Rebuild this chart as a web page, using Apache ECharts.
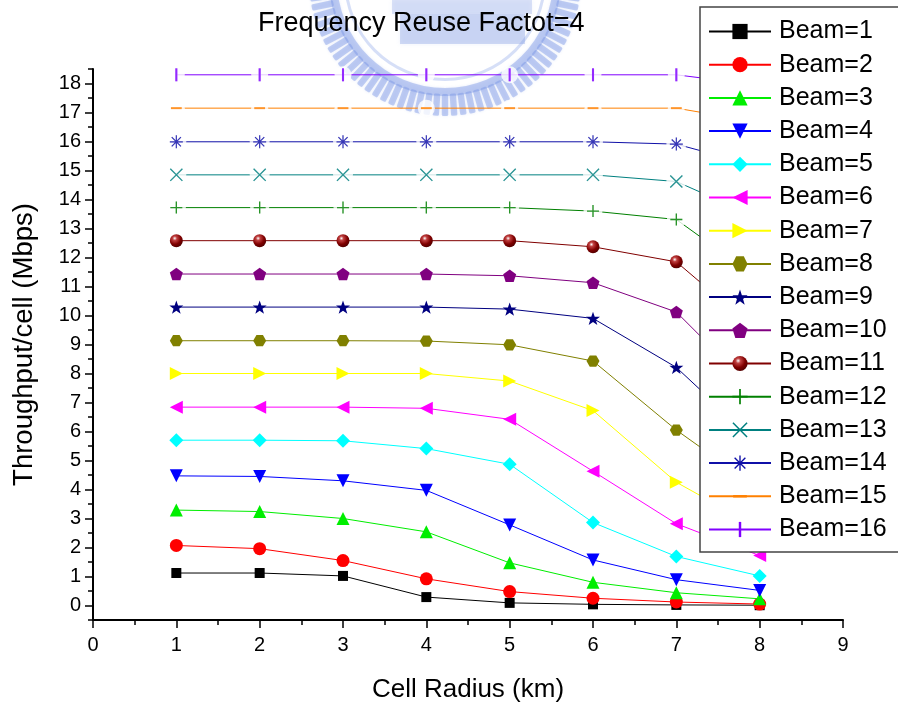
<!DOCTYPE html>
<html>
<head>
<meta charset="utf-8">
<script src="https://cdn.jsdelivr.net/npm/echarts@6/dist/echarts.min.js"></script>
<style>
html, body { margin: 0; padding: 0; background: #ffffff; }
#chart { width: 898px; height: 707px; }
</style>
</head>
<body>
<div id="chart"></div>
<script>
// Cell radius (km) on the x axis
const cellRadius = [1, 2, 3, 4, 5, 6, 7, 8];

// Throughput per cell (Mbps) for each number of beams
const beam1  = [1.12, 1.12, 1.02, 0.29, 0.09, 0.04, 0.02, 0.01];
const beam2  = [2.07, 1.96, 1.55, 0.92, 0.48, 0.25, 0.12, 0.05];
const beam3  = [3.29, 3.24, 3.00, 2.54, 1.47, 0.80, 0.44, 0.23];
const beam4  = [4.47, 4.45, 4.30, 3.97, 2.78, 1.57, 0.89, 0.52];
const beam5  = [5.70, 5.70, 5.68, 5.41, 4.87, 2.86, 1.69, 1.02];
const beam6  = [6.84, 6.84, 6.84, 6.80, 6.42, 4.63, 2.82, 1.72];
const beam7  = [8.00, 8.00, 8.00, 8.00, 7.74, 6.72, 4.25, 2.65];
const beam8  = [9.13, 9.13, 9.13, 9.12, 8.99, 8.43, 6.05, 4.00];
const beam9  = [10.29, 10.29, 10.29, 10.29, 10.22, 9.90, 8.21, 5.53];
const beam10 = [11.43, 11.43, 11.43, 11.43, 11.37, 11.13, 10.12, 7.24];
const beam11 = [12.58, 12.58, 12.58, 12.58, 12.58, 12.37, 11.85, 9.40];
const beam12 = [13.72, 13.72, 13.72, 13.72, 13.72, 13.60, 13.31, 11.24];
const beam13 = [14.85, 14.85, 14.85, 14.85, 14.85, 14.85, 14.62, 13.35];
const beam14 = [15.99, 15.99, 15.99, 15.99, 15.99, 15.99, 15.91, 15.13];
const beam15 = [17.15, 17.15, 17.15, 17.15, 17.15, 17.15, 17.15, 16.66];
const beam16 = [18.30, 18.30, 18.30, 18.30, 18.30, 18.30, 18.30, 17.94];

// Axis tick values
const xTickValues = [0, 1, 2, 3, 4, 5, 6, 7, 8, 9];
const yTickValues = [0, 1, 2, 3, 4, 5, 6, 7, 8, 9, 10, 11, 12, 13, 14, 15, 16, 17, 18];
const yHalfTickValues = [-0.5, 0.5, 1.5, 2.5, 3.5, 4.5, 5.5, 6.5, 7.5, 8.5, 9.5, 10.5, 11.5,
  12.5, 13.5, 14.5, 15.5, 16.5, 17.5, 18.5];

const FONT = '"Liberation Sans", Arial, Helvetica, sans-serif';

// ---- symbol shapes (in a 100x100 box) ----
function polyPath(pts) {
  return pts.map((p, i) => (i ? 'L' : 'M') + p[0].toFixed(2) + ',' + p[1].toFixed(2)).join('') + 'Z';
}
function regularPoly(n, r, startAngle) {
  const pts = [];
  for (let i = 0; i < n; i++) {
    const a = startAngle + i * 2 * Math.PI / n;
    pts.push([50 + r * Math.cos(a), 50 + r * Math.sin(a)]);
  }
  return polyPath(pts);
}
function starPoly(rOuter, rInner) {
  const pts = [];
  for (let i = 0; i < 10; i++) {
    const r = i % 2 ? rInner : rOuter;
    const a = -Math.PI / 2 + i * Math.PI / 5;
    pts.push([50 + r * Math.cos(a), 50 + r * Math.sin(a)]);
  }
  return polyPath(pts);
}
// thin bar through the centre, rotated by deg (same winding for every bar)
function bar(deg, len, w) {
  const a = deg * Math.PI / 180, c = Math.cos(a), s = Math.sin(a);
  const base = [[-len / 2, -w / 2], [len / 2, -w / 2], [len / 2, w / 2], [-len / 2, w / 2]];
  return polyPath(base.map(([x, y]) => [50 + x * c - y * s, 50 + x * s + y * c]));
}
// empty move-tos keep the bounding box square so thin dashes are not stretched
const squareBox = 'M0,0M100,100';

const hexagonSym  = 'path://' + regularPoly(6, 50, 0);
const pentagonSym = 'path://' + regularPoly(5, 50, -Math.PI / 2);
const starSym     = 'path://' + starPoly(50, 20);
const plusSym     = 'path://' + bar(0, 100, 11) + bar(90, 100, 11);
const crossSym    = 'path://' + bar(45, 120, 9) + bar(135, 120, 9);
const asteriskSym = 'path://' + bar(0, 100, 9) + bar(90, 100, 9) + bar(45, 100, 9) + bar(135, 100, 9) +
                    'M40,40L60,40L60,60L40,60Z';
const hDashSym    = 'path://' + squareBox + 'M5,42L95,42L95,58L5,58Z';
const vDashSym    = 'path://' + squareBox + 'M42,0L58,0L58,100L42,100Z';

const sphereFill = {
  type: 'radial', x: 0.38, y: 0.32, r: 0.75,
  colorStops: [
    { offset: 0, color: '#ffffff' },
    { offset: 0.22, color: '#c04040' },
    { offset: 0.6, color: '#800000' },
    { offset: 1, color: '#4a0000' }
  ]
};

// one entry per curve: values + drawing style
const beams = [
  { name: 'Beam=1',  values: beam1,  color: '#000000', symbol: 'rect', size: 10 },
  { name: 'Beam=2',  values: beam2,  color: '#ff0000', symbol: 'circle', size: 13 },
  { name: 'Beam=3',  values: beam3,  color: '#00ee00', symbol: 'triangle', size: 13 },
  { name: 'Beam=4',  values: beam4,  color: '#0000ff', symbol: 'triangle', size: 13, rotate: 180 },
  { name: 'Beam=5',  values: beam5,  color: '#00ffff', symbol: 'diamond', size: 14 },
  { name: 'Beam=6',  values: beam6,  color: '#ff00ff', symbol: 'triangle', size: 13, rotate: 90 },
  { name: 'Beam=7',  values: beam7,  color: '#ffff00', symbol: 'triangle', size: 13, rotate: -90 },
  { name: 'Beam=8',  values: beam8,  color: '#808000', symbol: hexagonSym, size: 13 },
  { name: 'Beam=9',  values: beam9,  color: '#000080', symbol: starSym, size: 14 },
  { name: 'Beam=10', values: beam10, color: '#800080', symbol: pentagonSym, size: 13 },
  { name: 'Beam=11', values: beam11, color: '#800000', symbol: 'circle', size: 13, fill: sphereFill },
  { name: 'Beam=12', values: beam12, color: '#008000', symbol: plusSym, size: 12, gap: 19 },
  { name: 'Beam=13', values: beam13, color: '#008080', symbol: crossSym, size: 13, gap: 20 },
  { name: 'Beam=14', values: beam14, color: '#1010a8', symbol: asteriskSym, size: 13, gap: 20 },
  { name: 'Beam=15', values: beam15, color: '#ff8000', symbol: hDashSym, size: 12, gap: 17 },
  { name: 'Beam=16', values: beam16, color: '#8000ff', symbol: vDashSym, size: 13, gap: 17 }
];

function pairs(values) {
  return cellRadius.map((x, i) => [x, values[i]]);
}

const series = [];
beams.forEach(b => {
  series.push({
    type: 'line', name: b.name, data: pairs(b.values),
    symbol: b.symbol, symbolSize: b.size, symbolRotate: b.rotate || 0, symbolKeepAspect: true,
    showSymbol: true,
    lineStyle: { color: b.color, width: 1 },
    itemStyle: { color: b.fill || b.color, borderWidth: 0 },
    z: 2, silent: true, emphasis: { disabled: true }
  });
});
// open-outline markers leave a small break in their line on each side
beams.filter(b => b.gap).forEach(b => {
  series.push({
    type: 'scatter', name: b.name + ' gap', data: pairs(b.values),
    symbol: 'circle', symbolSize: b.gap,
    itemStyle: { color: '#ffffff' }, z: 3, silent: true, emphasis: { disabled: true }
  });
  series.push({
    type: 'scatter', name: b.name + ' marker', data: pairs(b.values),
    symbol: b.symbol, symbolSize: b.size, symbolKeepAspect: true,
    itemStyle: { color: b.color }, z: 4, silent: true, emphasis: { disabled: true }
  });
});

// faint seal watermark behind the title (gear ring, inner rings, building block)
const sealX = 445, sealY = -20;
const sealColor = 'rgba(120, 148, 228, 0.42)';
const sealParts = [];
for (let k = 0; k < 92; k++) {
  sealParts.push({
    type: 'rect', x: sealX, y: sealY, rotation: k * 2 * Math.PI / 92,
    shape: { x: -3.2, y: 114, width: 6.4, height: 22, r: 1.5 },
    style: { fill: sealColor, shadowBlur: 3, shadowColor: sealColor },
    silent: true, z: 0
  });
}
sealParts.push({
  type: 'ring', shape: { cx: sealX, cy: sealY, r: 116, r0: 108 },
  style: { fill: sealColor, shadowBlur: 3, shadowColor: sealColor }, silent: true, z: 0
});
sealParts.push({
  type: 'ring', shape: { cx: sealX, cy: sealY, r: 101, r0: 98 },
  style: { fill: 'rgba(120, 148, 228, 0.3)' }, silent: true, z: 0
});
sealParts.push({
  type: 'rect', shape: { x: 392, y: 0, width: 140, height: 14 },
  style: { fill: 'rgba(120, 148, 228, 0.25)', shadowBlur: 4, shadowColor: sealColor }, silent: true, z: 0
});
sealParts.push({
  type: 'rect', shape: { x: 400, y: 14, width: 125, height: 30 },
  style: { fill: 'rgba(120, 148, 228, 0.32)', shadowBlur: 4, shadowColor: sealColor }, silent: true, z: 0
});

const option = {
  backgroundColor: '#ffffff',
  animation: false,
  graphic: { elements: sealParts },
  title: {
    text: 'Frequency Reuse Factot=4',
    left: 258, top: 10, padding: 0,
    textStyle: { fontFamily: FONT, fontSize: 27, fontWeight: 'normal', color: '#000000' }
  },
  grid: { left: 93, right: 55, top: 69, bottom: 87, containLabel: false, outerBoundsMode: 'none' },
  xAxis: {
    type: 'value', min: 0, max: 9, interval: 1,
    name: 'Cell Radius (km)', nameLocation: 'middle', nameGap: 57,
    nameTextStyle: { fontFamily: FONT, fontSize: 26, color: '#000000' },
    axisLine: { show: true, onZero: false, lineStyle: { color: '#000000', width: 2 } },
    axisTick: { show: true, inside: false, length: 8, lineStyle: { color: '#000000', width: 1.5 } },
    minorTick: { show: true, splitNumber: 2, length: 5, lineStyle: { color: '#000000', width: 1.5 } },
    axisLabel: {
      fontFamily: FONT, fontSize: 20, color: '#000000', margin: 15,
      customValues: xTickValues
    },
    splitLine: { show: false }, minorSplitLine: { show: false }
  },
  yAxis: [
    {
      type: 'value', min: -0.5, max: 18.5, position: 'left',
      name: 'Throughput/cell (Mbps)', nameLocation: 'middle', nameGap: 55,
      nameTextStyle: { fontFamily: FONT, fontSize: 27.5, color: '#000000' },
      axisLine: { show: true, onZero: false, lineStyle: { color: '#000000', width: 2 } },
      axisTick: { show: true, inside: false, length: 8, customValues: yTickValues,
        lineStyle: { color: '#000000', width: 1.5 } },
      axisLabel: { fontFamily: FONT, fontSize: 20, color: '#000000', margin: 12,
        customValues: yTickValues },
      splitLine: { show: false }
    },
    {
      type: 'value', min: -0.5, max: 18.5, position: 'left', offset: 0,
      axisLine: { show: false },
      axisTick: { show: true, inside: false, length: 5, customValues: yHalfTickValues,
        lineStyle: { color: '#000000', width: 1.5 } },
      axisLabel: { show: false },
      splitLine: { show: false }
    }
  ],
  legend: {
    data: beams.map(b => b.name),
    orient: 'vertical', left: 700, top: 7,
    padding: [12, 30, 10, 8],
    itemWidth: 62, itemHeight: 19, itemGap: 8.2,
    backgroundColor: '#ffffff', borderColor: '#444444', borderWidth: 1.5, borderRadius: 0,
    selectedMode: false, z: 10,
    textStyle: { fontFamily: FONT, fontSize: 25, color: '#000000', padding: [0, 0, 0, 3] }
  },
  series: series
};

const chart = echarts.init(document.getElementById('chart'), null, { renderer: 'canvas' });
chart.setOption(option);
</script>
</body>
</html>
